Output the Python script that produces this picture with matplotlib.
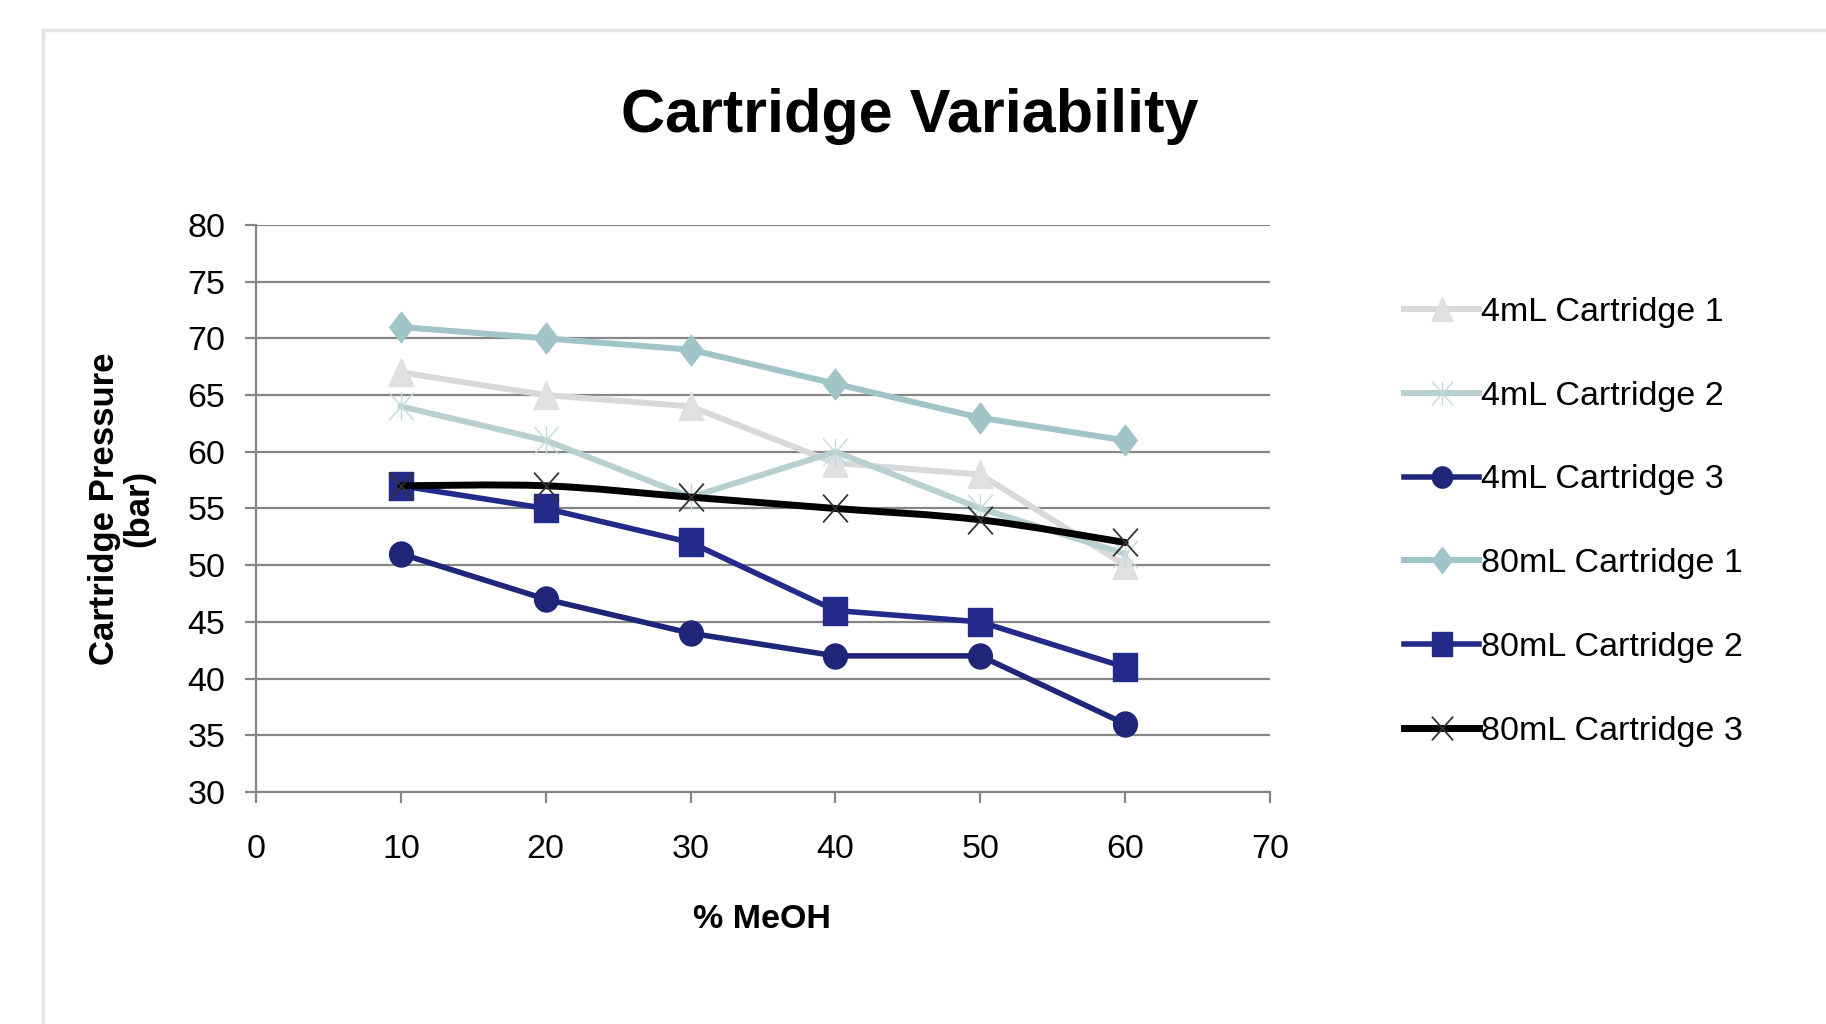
import matplotlib
matplotlib.use("Agg")
import matplotlib.pyplot as plt
import numpy as np
from matplotlib.path import Path
from matplotlib.patches import PathPatch
from matplotlib.lines import Line2D

plt.rcParams['font.family'] = ['Liberation Sans', 'DejaVu Sans']

meoh = [10, 20, 30, 40, 50, 60]
ml4_c1 = [67, 65, 64, 59, 58, 50]
ml4_c2 = [64, 61, 56, 60, 55, 51]
ml4_c3 = [51, 47, 44, 42, 42, 36]
ml80_c1 = [71, 70, 69, 66, 63, 61]
ml80_c2 = [57, 55, 52, 46, 45, 41]
ml80_c3 = [57, 57, 56, 55, 54, 52]
labels = ['4mL Cartridge 1', '4mL Cartridge 2', '4mL Cartridge 3',
          '80mL Cartridge 1', '80mL Cartridge 2', '80mL Cartridge 3']


def tall(verts, codes=None, sy=1.1):
    # markers in the reference are a little taller than wide
    v = np.asarray(verts, float) * [1.0, sy]
    return Path(v, codes)


circ = Path.unit_circle()
m_circle = tall(circ.vertices, circ.codes, 1.05)
m_square = tall([[-1, -1], [1, -1], [1, 1], [-1, 1], [-1, -1]],
                [1, 2, 2, 2, 79], 1.15)
m_diamond = tall([[0, -1], [1, 0], [0, 1], [-1, 0], [0, -1]],
                 [1, 2, 2, 2, 79], 1.3)
m_triangle = tall([[-1, -1], [1, -1], [0, 1], [-1, -1]], [1, 2, 2, 79], 1.12)
m_x = tall([[-1, -1], [1, 1], [-1, 1], [1, -1]], [1, 2, 1, 2], 1.12)
m_star = tall([[-1, -1], [1, 1], [-1, 1], [1, -1], [0, -1], [0, 1]],
              [1, 2, 1, 2, 1, 2], 1.12)

fig = plt.figure(figsize=(18.26, 10.24), dpi=100)
ax = fig.add_axes([0.1402, 0.2266, 0.5553, 0.5537])

# chart frame
fig.add_artist(Line2D([0.0235, 0.0235], [0, 0.9705], transform=fig.transFigure,
                      color='#e4e4e4', lw=2.5))
fig.add_artist(Line2D([0.0235, 1.0], [0.9705, 0.9705], transform=fig.transFigure,
                      color='#e4e4e4', lw=2.5))

handles = []
styles = [
    (ml4_c1, '#d9d9d9', '#e0e0e0', m_triangle, 20, 4.3),
    (ml4_c2, '#b8d0d0', '#c4dada', m_star, 20, 4.3),
    (ml4_c3, '#1f2578', '#1f2578', m_circle, 18, 4.0),
    (ml80_c1, '#a0c4c8', '#a0c4c8', m_diamond, 22, 4.3),
    (ml80_c2, '#232a8a', '#232a8a', m_square, 20, 4.0),
]
for (vals, lc, mc, mk, ms, lw), lab in zip(styles, labels):
    ln, = ax.plot(meoh, vals, color=lc, lw=lw, marker=mk, ms=ms,
                  mfc=mc, mec=mc, mew=1.0, label=lab, clip_on=False)
    handles.append(ln)

# smoothed black series
pts = np.column_stack([meoh, ml80_c3]).astype(float)
ext = np.vstack([pts[0], pts, pts[-1]])
verts = [pts[0]]
codes = [Path.MOVETO]
for i in range(1, len(ext) - 2):
    p0, p1, p2, p3 = ext[i - 1], ext[i], ext[i + 1], ext[i + 2]
    verts += [p1 + (p2 - p0) / 6, p2 - (p3 - p1) / 6, p2]
    codes += [Path.CURVE4] * 3
ax.add_patch(PathPatch(Path(verts, codes), fill=False, ec='black', lw=5.0,
                       zorder=3, capstyle='round'))
ax.plot(meoh, ml80_c3, ls='none', marker=m_x, ms=20, mec='#333333',
        mew=1.3, zorder=4, clip_on=False)
handles.append(Line2D([], [], color='black', lw=5.0, marker=m_x, ms=20,
                      mec='#333333', mew=1.3))

ax.set_xlim(0, 70)
ax.set_ylim(30, 80)
ax.set_xticks(range(0, 71, 10))
ax.set_yticks(range(30, 81, 5))
ax.yaxis.grid(True, color='#868686', lw=1.6)
ax.set_axisbelow(True)
for s in ['top', 'right']:
    ax.spines[s].set_visible(False)
for s in ['left', 'bottom']:
    ax.spines[s].set_color('#868686')
    ax.spines[s].set_linewidth(1.6)
ax.tick_params(axis='both', colors='#868686', labelcolor='black',
               labelsize=24.5, length=8, width=1.6)
ax.tick_params(axis='y', pad=14)
ax.tick_params(axis='x', pad=22)

fig.text(0.498, 0.886, 'Cartridge Variability', ha='center', va='center',
         fontsize=44, fontweight='bold')
fig.text(0.417, 0.1016, '% MeOH', ha='center', va='center',
         fontsize=24.5, fontweight='bold')
fig.text(0.0668, 0.503, 'Cartridge Pressure\n(bar)', ha='center', va='center',
         rotation=90, multialignment='center', fontsize=25, fontweight='bold',
         linespacing=1.05)

fig.legend(handles=handles, labels=labels, loc='upper left',
           bbox_to_anchor=(0.769, 0.710), frameon=False, fontsize=24.5,
           handlelength=2.2, handletextpad=0.05, labelspacing=1.55,
           borderpad=0, borderaxespad=0, numpoints=1, markerscale=0.85)

fig.savefig('out.png', dpi=100)
